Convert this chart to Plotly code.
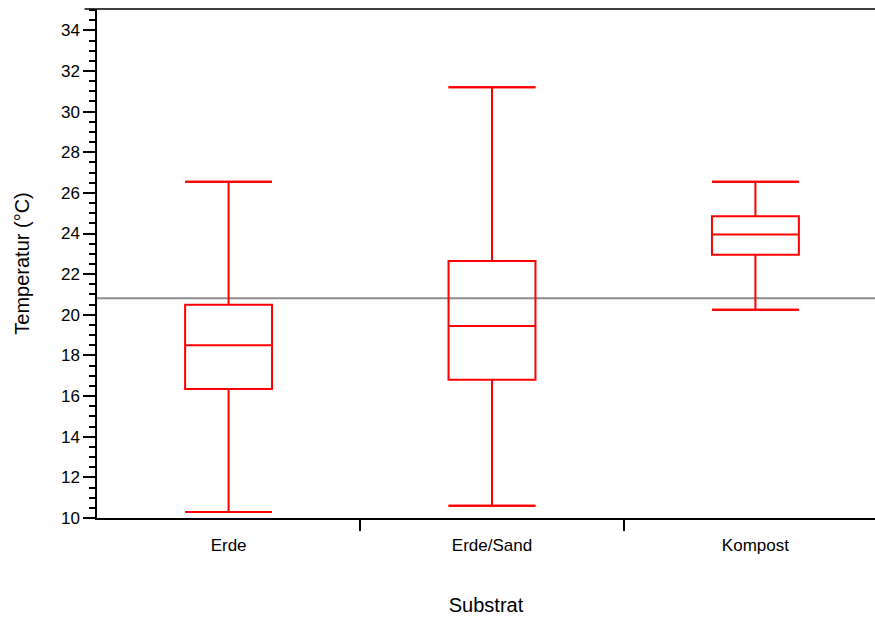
import plotly.graph_objects as go

categories = ["Erde", "Erde/Sand", "Kompost"]
lower_whisker = [10.3, 10.6, 20.25]
q1 = [16.35, 16.8, 22.95]
median = [18.5, 19.45, 23.95]
q3 = [20.5, 22.65, 24.85]
upper_whisker = [26.55, 31.2, 26.55]
grand_mean = 20.82

y_ticks = list(range(10, 35, 2))
box_width = 0.33
red = "#FF0000"
font_family = "Liberation Sans, Arial, sans-serif"

positions = list(range(len(categories)))

fig = go.Figure()
fig.add_trace(go.Box(
    x=positions,
    q1=q1, median=median, q3=q3,
    lowerfence=lower_whisker, upperfence=upper_whisker,
    width=box_width,
    fillcolor="rgba(0,0,0,0)",
    line=dict(color=red, width=2),
    whiskerwidth=1,
    boxpoints=False,
    hoverinfo="skip",
    showlegend=False,
))

# whisker caps
cap_x, cap_y = [], []
for i, (lo, hi) in enumerate(zip(lower_whisker, upper_whisker)):
    for v in (lo, hi):
        cap_x += [i - box_width / 2, i + box_width / 2, None]
        cap_y += [v, v, None]
fig.add_trace(go.Scatter(x=cap_x, y=cap_y, mode="lines",
                         line=dict(color=red, width=2),
                         hoverinfo="skip", showlegend=False))

fig.add_hline(y=grand_mean, line=dict(color="#8C8C8C", width=2), layer="below")

# top frame stub extending to the left like the original
fig.add_shape(type="line", xref="paper", yref="paper", x0=-0.016, x1=1, y0=1, y1=1,
              line=dict(color="black", width=1.5))

fig.update_layout(
    width=875, height=619,
    margin=dict(l=97, r=0, t=9, b=101),
    plot_bgcolor="white", paper_bgcolor="white",
    font=dict(family=font_family, color="black", size=17),
    xaxis=dict(
        range=[-0.4995, 2.454],
        automargin=False,
        tickmode="array", tickvals=positions, ticktext=categories,
        ticks="", showgrid=False, zeroline=False,
        showline=True, linecolor="black", linewidth=1.5,
        tickfont=dict(size=17),
        ticklabelstandoff=11,
        minor=dict(tick0=0.5, dtick=1, ticks="outside", ticklen=11,
                   tickcolor="black", tickwidth=1.5, showgrid=False),
        title=dict(text="Substrat", font=dict(size=20), standoff=44),
    ),
    yaxis=dict(
        range=[10, 35.05],
        automargin=False,
        tickmode="array", tickvals=y_ticks,
        ticks="outside", ticklen=12, tickwidth=2, tickcolor="black",
        showgrid=False, zeroline=False,
        showline=True, linecolor="black", linewidth=1.5,
        tickfont=dict(size=17),
        minor=dict(tick0=10, dtick=0.5, ticks="outside", ticklen=6,
                   tickcolor="black", tickwidth=1.5, showgrid=False),
        title=dict(text="Temperatur (°C)", font=dict(size=20), standoff=26),
    ),
)

fig.write_html("out.html", config={"responsive": False, "displayModeBar": False},
               post_script="document.body.style.margin='0';document.body.style.overflow='hidden';")
